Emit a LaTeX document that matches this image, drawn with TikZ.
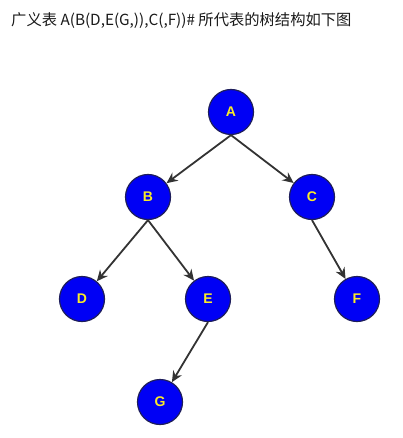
\documentclass[tikz,border=0pt]{standalone}
\usepackage{fontspec}
\setmainfont{Liberation Sans}
\newfontfamily\cjk{Noto Sans CJK SC}
\usetikzlibrary{arrows.meta}
\definecolor{nodeblue}{RGB}{0,0,245}
\definecolor{rimblue}{RGB}{30,30,90}
\definecolor{labelyellow}{RGB}{250,235,40}
\definecolor{edgegray}{RGB}{51,51,51}
\begin{document}
\begin{tikzpicture}[x=1pt,y=-1pt]
        \useasboundingbox (0,0) rectangle (403,438);
        \node[anchor=west,inner sep=0pt,text=black!90] (title) at (11,21)
            {\cjk\fontsize{15.3pt}{17pt}\selectfont 广义表 A(B(D,E(G,)),C(,F))\# 所代表的树结构如下图};
        \begin{scope}[every node/.style={circle,draw=rimblue,line width=1.2pt,fill=nodeblue,
                minimum size=45pt,inner sep=0pt,text=labelyellow,font=\bfseries\fontsize{14pt}{16pt}\selectfont}]
            \node (a) at (231,112) {A};
            \node (b) at (148,197) {B};
            \node (c) at (312,197) {C};
            \node (d) at (82,299)  {D};
            \node (e) at (208,299) {E};
            \node (f) at (357,299) {F};
            \node (g) at (160,402) {G};
        \end{scope}
        \begin{scope}[line width=1.8pt,draw=edgegray,-{Stealth[length=11pt,width=10pt]}]
            \draw (a.south)--(b);
            \draw (a.south)--(c);
            \draw (b.south)--(d);
            \draw (b.south)--(e);
            \draw (c.south)--(f);
            \draw (e.south)--(g);
        \end{scope}
    \end{tikzpicture}
\end{document}
